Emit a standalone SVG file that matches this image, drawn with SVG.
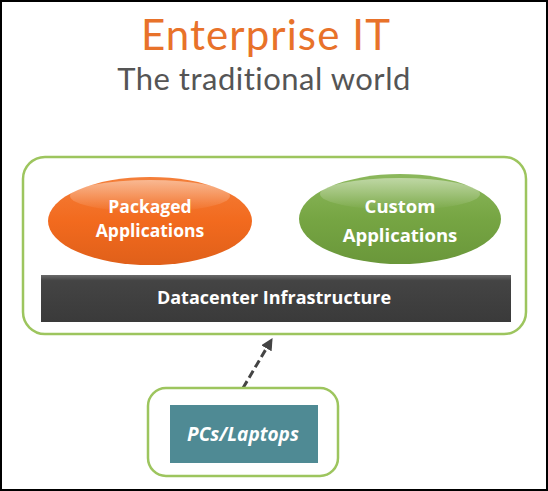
<svg xmlns="http://www.w3.org/2000/svg" width="548" height="491" viewBox="0 0 548 491">
<defs>
<style>
.frame{fill:#fff;stroke:#000;stroke-width:2}
.grp{fill:#fff;stroke:#9dc55e;stroke-width:2.5}
.lbl{font-family:"Open Sans","Liberation Sans",sans-serif;font-weight:bold;fill:#fff;text-anchor:middle}
.ttl{font-family:Lato,"Open Sans",sans-serif;text-anchor:middle}
.conn{stroke:#444;stroke-width:3;stroke-dasharray:8 4;fill:none}
</style>
<linearGradient id="gOr" x1="0" y1="0" x2="0" y2="1">
<stop offset="0" stop-color="#f47f3a"/><stop offset="0.5" stop-color="#f26a1e"/><stop offset="1" stop-color="#e0601a"/>
</linearGradient>
<linearGradient id="gGr" x1="0" y1="0" x2="0" y2="1">
<stop offset="0" stop-color="#8cb85c"/><stop offset="0.5" stop-color="#76a543"/><stop offset="1" stop-color="#6a973a"/>
</linearGradient>
<linearGradient id="gDk" x1="0" y1="0" x2="0" y2="1">
<stop offset="0" stop-color="#6a6a6a"/><stop offset="0.12" stop-color="#444"/><stop offset="1" stop-color="#3a3a3a"/>
</linearGradient>
<linearGradient id="gloss" x1="0" y1="0" x2="0" y2="1">
<stop offset="0" stop-color="#fff" stop-opacity="0.45"/><stop offset="1" stop-color="#fff" stop-opacity="0"/>
</linearGradient>
<marker id="ah" markerWidth="12" markerHeight="12" refX="5" refY="6" orient="auto" markerUnits="userSpaceOnUse" viewBox="0 0 12 12">
<path d="M0,0 L12,6 L0,12 z" fill="#444"/>
</marker>
</defs>
<rect class="frame" x="1" y="1" width="546" height="489"/>
<g id="title">
<text class="ttl" x="266" y="50" font-size="42" fill="#e8722a" letter-spacing="1.1">Enterprise IT</text>
<text class="ttl" x="264" y="90" font-size="31" fill="#555" letter-spacing="0.5">The traditional world</text>
</g>
<g id="enterprise">
<rect class="grp" x="23" y="157" width="503" height="177" rx="22"/>
</g>
<g id="packaged">
<ellipse cx="150" cy="221" rx="102" ry="44" fill="url(#gOr)"/>
<ellipse cx="150" cy="196" rx="80" ry="16" fill="url(#gloss)"/>
<text class="lbl" x="150" y="213" font-size="17.5">Packaged</text>
<text class="lbl" x="150" y="237" font-size="17.5">Applications</text>
</g>
<g id="custom">
<ellipse cx="400" cy="219" rx="101" ry="45" fill="url(#gGr)"/>
<ellipse cx="400" cy="194" rx="80" ry="16" fill="url(#gloss)"/>
<text class="lbl" x="400" y="213" font-size="18.5">Custom</text>
<text class="lbl" x="400" y="242" font-size="18.5">Applications</text>
</g>
<g id="datacenter">
<rect x="41" y="275" width="470" height="47" fill="url(#gDk)"/>
<text class="lbl" x="274" y="304" font-size="18">Datacenter Infrastructure</text>
</g>
<g id="connectors">
<line class="conn" x1="243" y1="388" x2="269" y2="344" marker-end="url(#ah)"/>
</g>
<g id="pcs">
<rect class="grp" x="148" y="388" width="190" height="88" rx="18"/>
<rect x="170" y="405" width="148" height="58" fill="#4f8a94"/>
<text class="lbl" x="243" y="441" font-size="19" font-style="italic">PCs/Laptops</text>
</g>
</svg>
